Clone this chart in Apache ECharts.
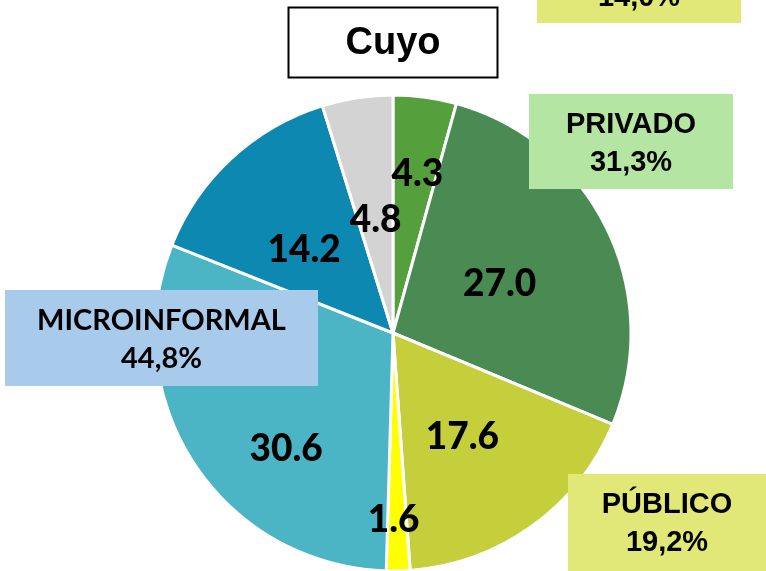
<!DOCTYPE html>
<html>
<head>
<meta charset="utf-8">
<script src="https://cdn.jsdelivr.net/npm/echarts@6/dist/echarts.min.js"></script>
<style>
  html, body { margin: 0; padding: 0; background: #fff; }
  #chart { width: 766px; height: 571px; }
</style>
</head>
<body>
<div id="chart"></div>
<script>
// porciones, en sentido horario desde arriba
var sliceNames = ['s1', 's2', 's3', 's4', 's5', 's6', 's7'];
var sliceValues = [4.3, 27.0, 17.6, 1.6, 30.6, 14.2, 4.8];
var sliceColors = ['#55A03C', '#4A8A53', '#C5CE3B', '#FFFF00', '#4BB4C5', '#0D88B0', '#D3D3D3'];
// algunas etiquetas movidas a mano, como en el original
var labelOffsets = [[8, -38], [-3, 5], [-2, 5], [-2, 65], [-5, 49], [-6, 7], [1, 8]];

// cajas de grupos
var groupNames = ['', 'PRIVADO', 'MICROINFORMAL', 'PÚBLICO'];
var groupShares = ['14,0%', '31,3%', '44,8%', '19,2%'];

var myChart = echarts.init(document.getElementById('chart'));

var data = [];
for (var i = 0; i < sliceValues.length; i++) {
  data.push({
    name: sliceNames[i],
    value: sliceValues[i],
    itemStyle: { color: sliceColors[i] },
    label: { offset: labelOffsets[i] }
  });
}

function box(x, y, w, h, fill, lines, font, size, lh, ty) {
  return {
    type: 'group',
    z: 100,
    children: [
      { type: 'rect', z: 100, shape: { x: x, y: y, width: w, height: h }, style: { fill: fill } },
      {
        type: 'text',
        z: 101,
        x: x + w / 2,
        y: ty,
        style: {
          text: lines.join('\n'),
          fill: '#000',
          font: 'bold ' + size + 'px ' + font,
          lineHeight: lh,
          align: 'center',
          verticalAlign: 'middle'
        }
      }
    ]
  };
}

var option = {
  animation: false,
  series: [{
    type: 'pie',
    center: [393, 333],
    radius: 238,
    startAngle: 90,
    clockwise: true,
    itemStyle: { borderColor: '#fff', borderWidth: 3 },
    label: {
      show: true,
      position: 'inside',
      formatter: function (p) { return p.value.toFixed(1); },
      color: '#000',
      fontFamily: 'Lato',
      fontWeight: 900,
      fontSize: 37
    },
    labelLine: { show: false },
    emphasis: { disabled: true },
    data: data
  }],
  graphic: [
    // titulo
    {
      type: 'rect',
      z: 100,
      shape: { x: 288.5, y: 7.5, width: 209, height: 70 },
      style: { fill: '#fff', stroke: '#000', lineWidth: 2 }
    },
    {
      type: 'text',
      z: 101,
      x: 393, y: 44,
      style: { text: 'Cuyo', font: 'bold 38px "Liberation Sans"', fill: '#000', align: 'center', verticalAlign: 'middle' }
    },
    box(537, -60, 204, 83, '#E2E878', [groupShares[0]], '"Liberation Sans"', 29, 38, -2),
    box(529, 94, 204, 95, '#B4E5A2', [groupNames[1], groupShares[1]], '"Liberation Sans"', 29, 38, 144),
    box(5, 290, 313, 96, '#A8CAEB', [groupNames[2], groupShares[2]], 'Lato', 29, 38, 340),
    box(568, 474, 198, 97, '#E2E878', [groupNames[3], groupShares[3]], '"Liberation Sans"', 29, 38, 524)
  ]
};

myChart.setOption(option);
</script>
</body>
</html>
